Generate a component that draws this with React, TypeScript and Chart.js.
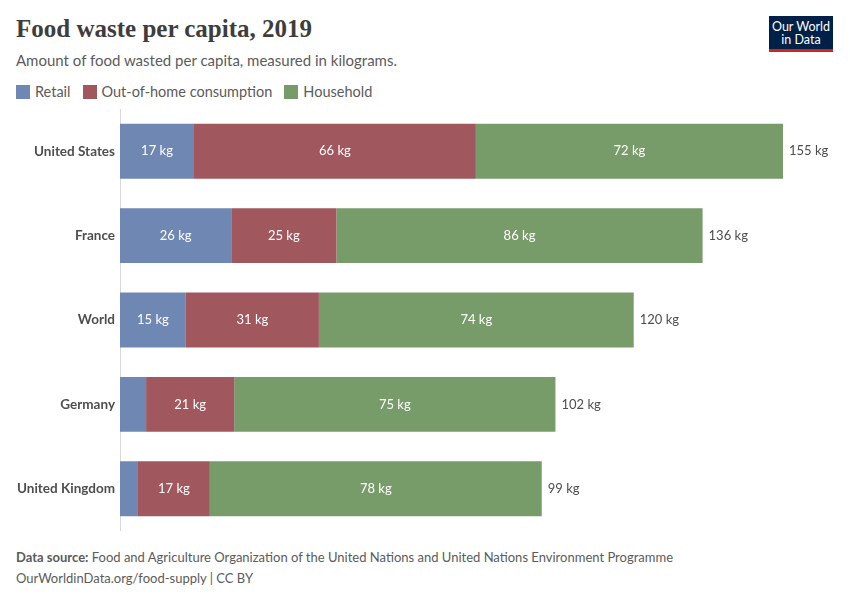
import React, { useEffect, useRef } from "react";
import { Chart, registerables } from "chart.js";

Chart.register(...registerables);

const countries = ["United States", "France", "World", "Germany", "United Kingdom"];
const retail = [17.3, 26.0, 15.4, 6.1, 4.2];
const outOfHome = [65.9, 24.6, 31.1, 20.6, 16.8];
const household = [71.8, 85.6, 73.6, 75.1, 77.6];
const seriesNames = ["Retail", "Out-of-home consumption", "Household"];
const seriesColors = ["#6e87b3", "#a1575e", "#789b6a"];
const xMax = 155;

const FONT = "Lato, 'Noto Sans', sans-serif";
const TEXT = "#5b5b5b";

const labelPlugin = {
  id: "barLabels",
  afterDatasetsDraw(chart: any) {
    const ctx = chart.ctx;
    ctx.save();
    ctx.font = `13px ${FONT}`;
    ctx.textBaseline = "middle";
    const n = chart.data.labels.length;
    for (let i = 0; i < n; i++) {
      let lastRight = 0;
      let y = 0;
      let total = 0;
      chart.data.datasets.forEach((ds: any, di: number) => {
        const meta = chart.getDatasetMeta(di);
        const bar = meta.data[i] as any;
        const v = ds.data[i];
        total += v;
        const left = bar.base;
        const right = bar.x;
        y = bar.y;
        lastRight = Math.max(lastRight, right);
        const txt = `${Math.round(v)} kg`;
        const w = ctx.measureText(txt).width;
        if (right - left > w + 10) {
          ctx.fillStyle = "#ffffff";
          ctx.textAlign = "center";
          ctx.fillText(txt, (left + right) / 2, y);
        }
      });
      ctx.fillStyle = "#4e4e4e";
      ctx.textAlign = "left";
      ctx.fillText(`${Math.round(total)} kg`, lastRight + 6, y);
    }
    ctx.restore();
  },
};

export default function App() {
  const ref = useRef<HTMLCanvasElement>(null);
  useEffect(() => {
    if (!ref.current) return;
    const data = [retail, outOfHome, household];
    const chart = new Chart(ref.current, {
      type: "bar",
      data: {
        labels: countries,
        datasets: seriesNames.map((name, i) => ({
          label: name,
          data: data[i],
          backgroundColor: seriesColors[i],
          borderWidth: 0,
          barPercentage: 0.65,
          categoryPercentage: 1,
        })),
      },
      options: {
        indexAxis: "y",
        animation: false,
        responsive: false,
        maintainAspectRatio: false,
        layout: { padding: { left: 0, right: 67, top: 5, bottom: 7 } },
        plugins: {
          legend: { display: false },
          tooltip: { enabled: false },
        },
        scales: {
          x: {
            stacked: true,
            min: 0,
            max: xMax,
            display: false,
          },
          y: {
            stacked: true,
            grid: { display: false, drawTicks: false },
            border: { display: true, color: "#d9d9d9", width: 1 },
            ticks: {
              color: "#4e4e4e",
              font: { family: FONT, size: 13.5, weight: "bold" },
              padding: 5,
            },
            afterFit(scale: any) {
              scale.width = 120;
            },
          },
        },
      },
      plugins: [labelPlugin],
    } as any);
    return () => chart.destroy();
  }, []);

  return (
    <div style={{ position: "absolute", left: 0, top: 0, width: 850, height: 600, background: "#fff", fontFamily: FONT, overflow: "hidden" }}>
      <div style={{ position: "absolute", left: 16, top: 15, fontFamily: "'Liberation Serif', serif", fontWeight: "bold", fontSize: 25, color: "#3d3d3d" }}>
        Food waste per capita, 2019
      </div>
      <div style={{ position: "absolute", left: 16, top: 51, fontSize: 15, color: TEXT }}>
        Amount of food wasted per capita, measured in kilograms.
      </div>
      <div style={{ position: "absolute", left: 16, top: 83, display: "flex", alignItems: "center", fontSize: 14.5, color: TEXT }}>
        {seriesNames.map((n, i) => (
          <div key={n} style={{ display: "flex", alignItems: "center", marginRight: 12 }}>
            <span style={{ display: "inline-block", width: 14, height: 14, background: seriesColors[i], marginRight: 5 }} />
            <span>{n}</span>
          </div>
        ))}
      </div>
      <div style={{ position: "absolute", left: 769, top: 16, width: 64, height: 33, background: "#002147", borderBottom: "3px solid #ce261e", color: "#fff", fontSize: 12.5, lineHeight: "13px", textAlign: "center", display: "flex", alignItems: "center", justifyContent: "center" }}>
        <div>Our World<br />in Data</div>
      </div>
      <canvas ref={ref} width={850} height={448} style={{ position: "absolute", left: 0, top: 96, width: 850, height: 448 }} />
      <div style={{ position: "absolute", left: 16, top: 547, fontSize: 13, color: TEXT, lineHeight: "21px" }}>
        <div><b>Data source:</b> Food and Agriculture Organization of the United Nations and United Nations Environment Programme</div>
        <div>OurWorldinData.org/food-supply | CC BY</div>
      </div>
    </div>
  );
}
